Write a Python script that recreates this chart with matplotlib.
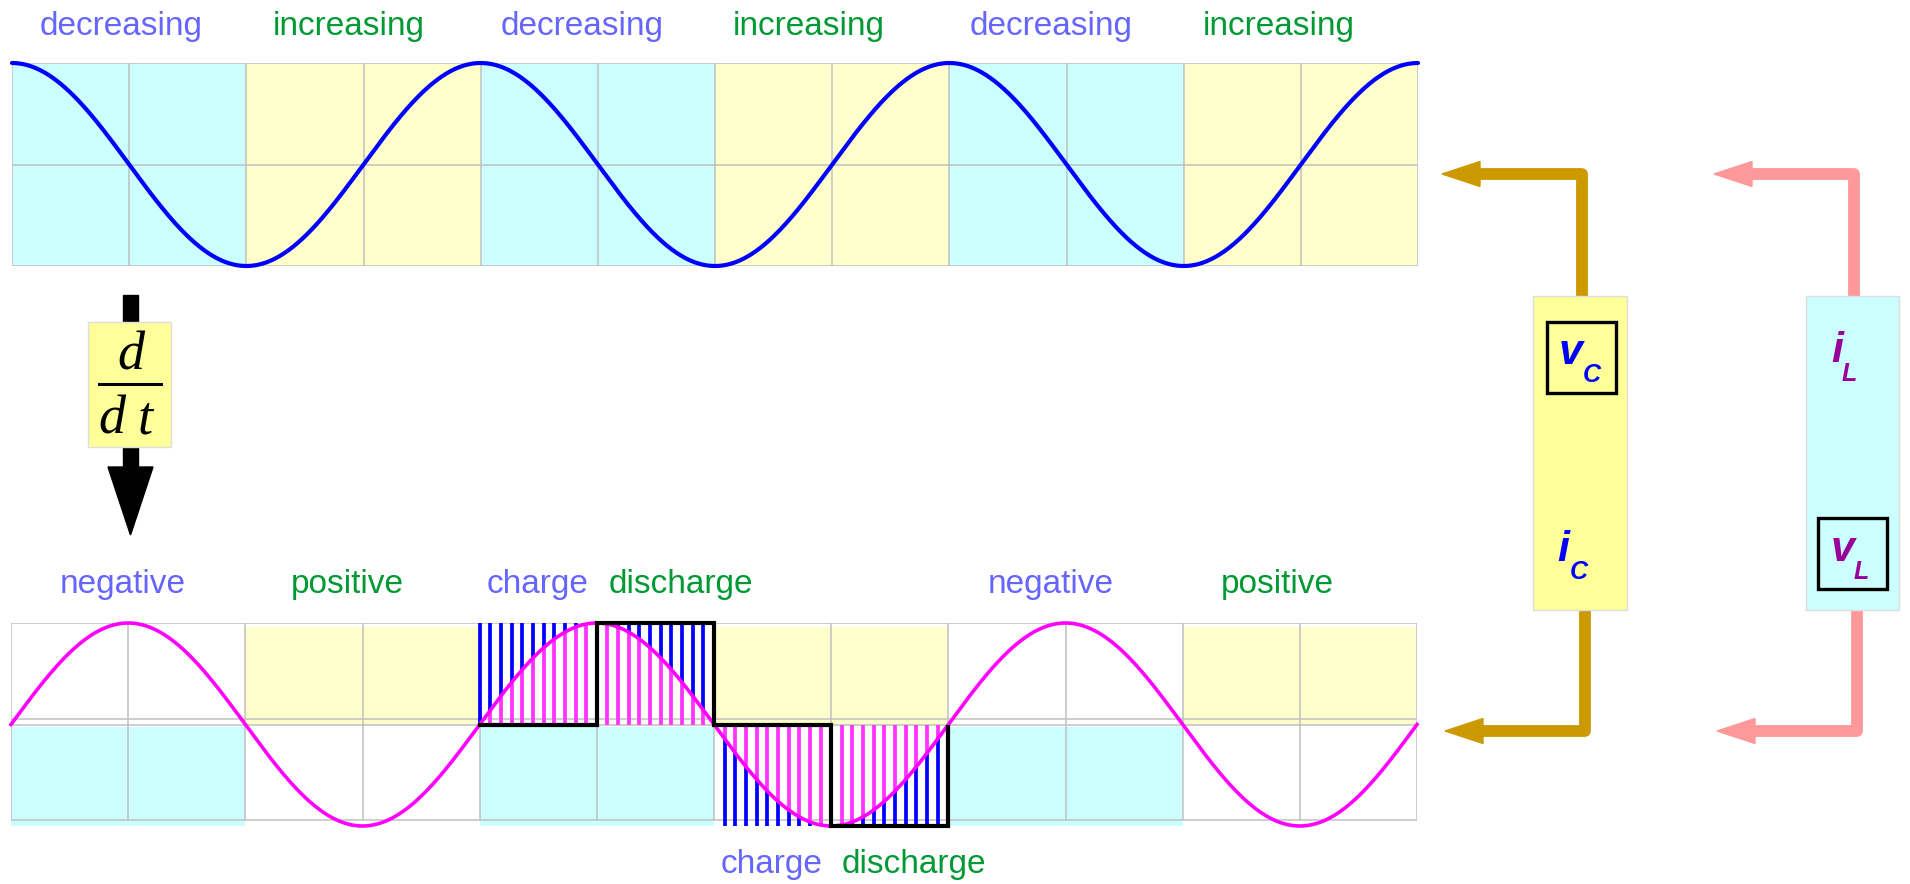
import numpy as np
import matplotlib.pyplot as plt
from matplotlib.patches import Rectangle, Polygon

# ---- data ----
n_cells = 12            # grid columns in each strip
period = 4              # cells per full wave
top_fill = ['c', 'c', 'y', 'y'] * 3          # decreasing / increasing columns
bot_fill = ['neg', 'neg', 'pos', 'pos'] * 3  # sign of the slope
top_labels = ['decreasing', 'increasing'] * 3
top_label_x = [0.93, 2.87, 4.87, 6.80, 8.87, 10.81]
bot_labels = ['negative', 'positive', 'negative', 'positive']
bot_label_x = [0.95, 2.87, 8.87, 10.81]
mid_labels = ['charge', 'discharge']
mid_label_x = [4.49, 5.72]
low_labels = ['charge', 'discharge']
low_label_x = [6.49, 7.71]
step_x = [4, 5, 6, 7, 8]          # black step outline over the hatched part
step_levels = [0, 1, 0, -1]
stripes_per_cell = 11

W, H = 1910, 884
CYAN = '#ccffff'
YEL = '#ffffcc'
BOXYEL = '#ffff99'
GRID = '#c0c0c0'
LBLUE = '#6666ff'
LGREEN = '#009933'
GOLD = '#cc9900'
PINK = '#ff9999'
PURPLE = '#990099'

plt.rcParams['font.family'] = ['Liberation Sans', 'DejaVu Sans']

fig = plt.figure(figsize=(W / 100, H / 100), dpi=100)


def px_axes(x0, y0, x1, y1):
    return fig.add_axes([x0 / W, 1 - y1 / H, (x1 - x0) / W, (y1 - y0) / H])


# overlay in pixel units for the diagram parts
ax_ov = px_axes(0, 0, W, H)
ax_ov.set_xlim(0, W)
ax_ov.set_ylim(H, 0)
ax_ov.axis('off')

# ---------------- top strip ----------------
ax_top = px_axes(12, 63, 1418, 266)
ax_top.set_xlim(0, n_cells)
ax_top.set_ylim(-1, 1)
ax_top.axis('off')

cols = np.arange(n_cells)
ax_top.bar(cols + 0.5, 2, bottom=-1, width=1.0,
           color=[CYAN if f == 'c' else YEL for f in top_fill], zorder=1)
ax_top.vlines(np.arange(n_cells + 1), -1, 1, color=GRID, lw=1.1, zorder=2)
ax_top.hlines([-1, 0, 1], 0, n_cells, color=GRID, lw=1.1, zorder=2)

xc = np.linspace(0, n_cells, 1201)
ax_top.plot(xc, np.cos(2 * np.pi * xc / period), color='#0000ff', lw=3.0,
            zorder=3, clip_on=False, solid_capstyle='round')

for lab, x in zip(top_labels, top_label_x):
    ax_top.text(x, 1.276, lab, ha='center', va='baseline', fontsize=24,
                color=LBLUE if lab.startswith('de') else LGREEN, clip_on=False)

# ---------------- bottom strip ----------------
ax_bot = px_axes(11, 623, 1417, 826)
ax_bot.set_xlim(0, n_cells)
ax_bot.set_ylim(-1, 1)
ax_bot.axis('off')

pos = np.array([f == 'pos' for f in bot_fill])
ax_bot.bar(cols[pos] + 0.5, 0.96, bottom=0, width=1.0, color=YEL, zorder=1)
ax_bot.bar(cols[~pos] + 0.5, 0.98, bottom=-1, width=1.0, color=CYAN, zorder=1)
ax_bot.vlines(np.arange(n_cells + 1), -0.94, 1, color=GRID, lw=1.1, zorder=2)
ax_bot.hlines([-0.94, -0.005, 0.054, 1], 0, n_cells, color=GRID, lw=1.1, zorder=2)

# stripes
sx = step_x[0] + np.arange((step_x[-1] - step_x[0]) * stripes_per_cell + 1) / stripes_per_cell
ss = np.sin(2 * np.pi * sx / period)
up = sx <= 6
ax_bot.vlines(sx[up], ss[up], 1, color='#0000ff', lw=2.7, zorder=3)
ax_bot.vlines(sx[up], 0, ss[up], color='#ff33ff', lw=2.7, zorder=3)
ax_bot.vlines(sx[~up], -1, ss[~up], color='#0000ff', lw=2.7, zorder=3)
ax_bot.vlines(sx[~up], ss[~up], 0, color='#ff33ff', lw=2.7, zorder=3)

ax_bot.plot(xc, np.sin(2 * np.pi * xc / period), color='#ff00ff', lw=2.6,
            zorder=4, clip_on=False)

ax_bot.step(step_x, step_levels + [step_levels[-1]], where='post', color='black',
            lw=3.0, zorder=5, clip_on=False, solid_joinstyle='miter')
ax_bot.vlines(step_x[-1], step_levels[-1], 0, color='black', lw=3.0, zorder=5)

for lab, x in zip(bot_labels, bot_label_x):
    ax_bot.text(x, 1.296, lab, ha='center', va='baseline', fontsize=24,
                color=LBLUE if lab.startswith('neg') else LGREEN, clip_on=False)
for lab, x in zip(mid_labels, mid_label_x):
    ax_bot.text(x, 1.296, lab, ha='center', va='baseline', fontsize=24,
                color=LBLUE if lab == 'charge' else LGREEN, clip_on=False)
for lab, x in zip(low_labels, low_label_x):
    ax_bot.text(x, -1.463, lab, ha='center', va='baseline', fontsize=24,
                color=LBLUE if lab == 'charge' else LGREEN, clip_on=False)

# ---------------- d/dt arrow ----------------
ax_ov.add_patch(Rectangle((123, 295), 15, 175, color='black', zorder=1))
ax_ov.add_patch(Polygon([(108, 467), (153, 467), (130.5, 535)], closed=True,
                        color='black', zorder=1))
ax_ov.add_patch(Rectangle((88, 322), 83, 125, facecolor=BOXYEL,
                          edgecolor='#dddddd', lw=1, zorder=2))
ax_ov.plot([99, 161], [384, 384], color='black', lw=2.2, zorder=3)
ax_ov.text(131, 369, 'd', ha='center', va='baseline', fontsize=39,
           family='Liberation Serif', style='italic', zorder=3)
ax_ov.text(112, 433, 'd', ha='center', va='baseline', fontsize=39,
           family='Liberation Serif', style='italic', zorder=3)
ax_ov.text(145, 433, 't', ha='center', va='baseline', fontsize=39,
           family='Liberation Serif', style='italic', zorder=3)


# ---------------- right side elements ----------------
def bent_arrow(xv, y_from, y_turn, x_tip, x_base, color):
    ax_ov.plot([xv, xv, x_base], [y_from, y_turn, y_turn], color=color, lw=8.5,
               solid_joinstyle='round', solid_capstyle='butt', zorder=1)
    ax_ov.add_patch(Polygon([(x_tip, y_turn), (x_base, y_turn - 12.5),
                             (x_base, y_turn + 12.5)], closed=True, color=color,
                            zorder=1))


bent_arrow(1582, 296, 174, 1442, 1480, GOLD)
bent_arrow(1585, 610, 731, 1445, 1483, GOLD)
bent_arrow(1854, 296, 174, 1714, 1752, PINK)
bent_arrow(1857, 610, 731, 1717, 1755, PINK)

ax_ov.add_patch(Rectangle((1533, 296), 94, 314, facecolor=BOXYEL,
                          edgecolor='#dddddd', lw=1, zorder=2))
ax_ov.add_patch(Rectangle((1806, 296), 93, 314, facecolor=CYAN,
                          edgecolor='#dddddd', lw=1, zorder=2))
ax_ov.add_patch(Rectangle((1547, 322), 69, 71, facecolor='none',
                          edgecolor='black', lw=2.4, zorder=3))
ax_ov.add_patch(Rectangle((1818, 518), 69, 71, facecolor='none',
                          edgecolor='black', lw=2.4, zorder=3))


def sym(x, y, main, sub, color, dx, dy):
    ax_ov.text(x, y, main, ha='center', va='baseline', fontsize=31,
               weight='bold', style='italic', color=color, zorder=4)
    ax_ov.text(x + dx, y + dy, sub, ha='center', va='baseline', fontsize=18,
               weight='bold', style='italic', color=color, zorder=4)


sym(1571, 364, 'v', 'C', '#0000ff', 21, 18)
sym(1563, 561, 'i', 'C', '#0000ff', 16, 18)
sym(1837, 362, 'i', 'L', PURPLE, 12, 19)
sym(1843, 561, 'v', 'L', PURPLE, 18, 18)

fig.savefig('out.png', dpi=100)
